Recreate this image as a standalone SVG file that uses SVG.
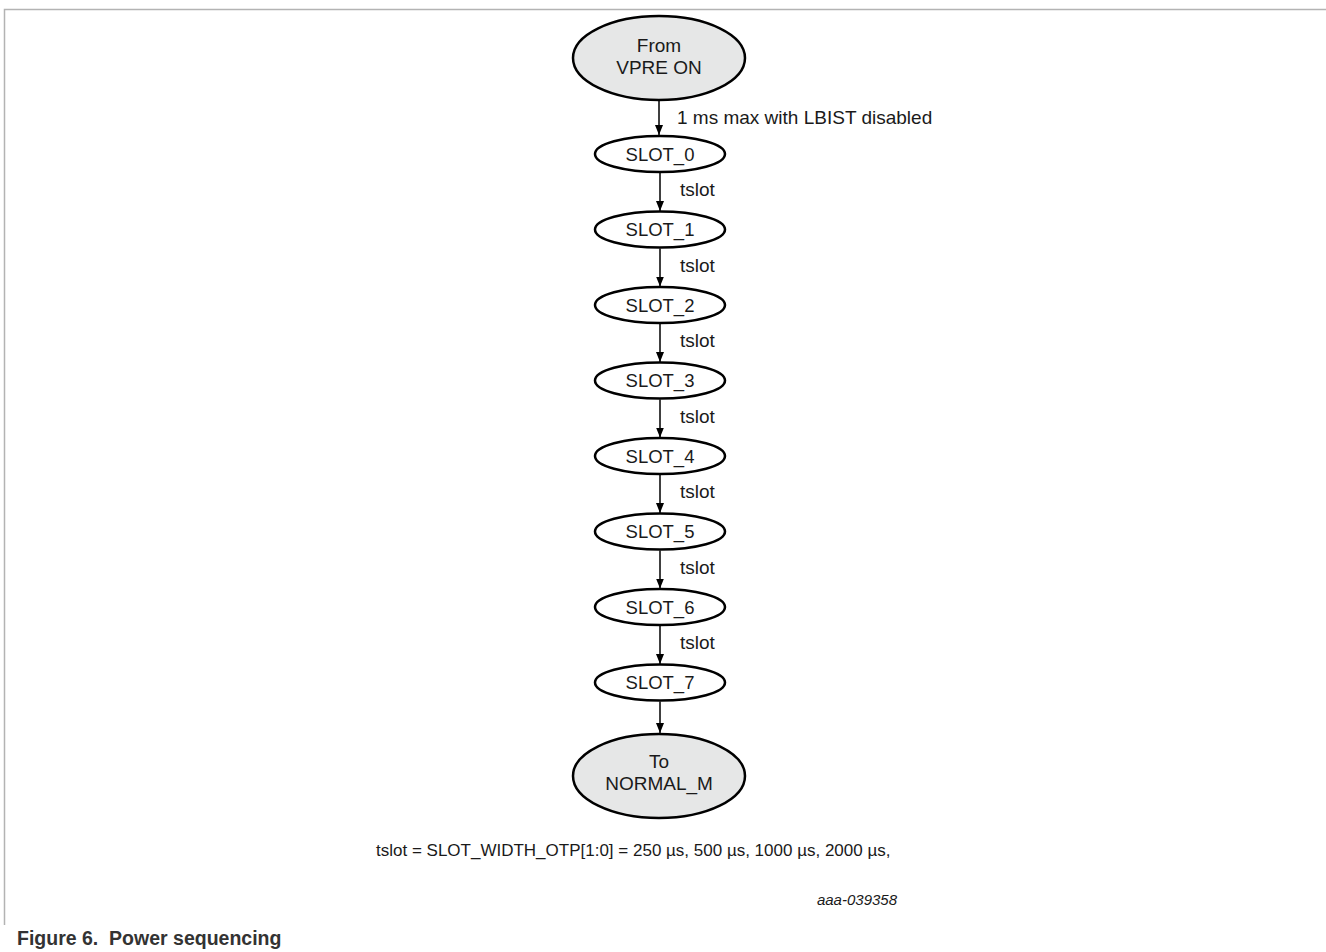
<svg xmlns="http://www.w3.org/2000/svg" width="1326" height="952" viewBox="0 0 1326 952">
<style>
.t{font-family:"Liberation Sans",Arial,sans-serif;font-size:19px;fill:#1a1a1a}
.s{font-size:18.5px}
.c{text-anchor:middle}
.term{fill:#e6e7e7;stroke:#000;stroke-width:2.5}
.slot{fill:#fff;stroke:#000;stroke-width:2.5}
.ln{stroke:#000;stroke-width:1.5;fill:none}
.frame{stroke:#b3b3b3;stroke-width:1.5;fill:none}
</style>
<defs>
<marker id="ah" viewBox="0 0 10 10" refX="10" refY="5" markerWidth="10" markerHeight="10" markerUnits="userSpaceOnUse" orient="auto">
<path d="M0,1 L10,5 L0,9 Z" fill="#000"/>
</marker>
</defs>
<rect width="1326" height="952" fill="#fff"/>
<path class="frame" d="M1326,9.5 H4.5 V925"/>
<g id="from">
<ellipse class="term" cx="659" cy="58" rx="86" ry="42"/>
<text class="t c" x="659" y="52">From</text>
<text class="t c" x="659" y="74">VPRE ON</text>
</g>
<g id="slot0"><ellipse class="slot" cx="660" cy="154" rx="65" ry="18"/><text class="t s c" x="660" y="160.5">SLOT_0</text></g>
<g id="slot1"><ellipse class="slot" cx="660" cy="229.5" rx="65" ry="18"/><text class="t s c" x="660" y="236">SLOT_1</text></g>
<g id="slot2"><ellipse class="slot" cx="660" cy="305" rx="65" ry="18"/><text class="t s c" x="660" y="311.5">SLOT_2</text></g>
<g id="slot3"><ellipse class="slot" cx="660" cy="380.5" rx="65" ry="18"/><text class="t s c" x="660" y="387">SLOT_3</text></g>
<g id="slot4"><ellipse class="slot" cx="660" cy="456" rx="65" ry="18"/><text class="t s c" x="660" y="462.5">SLOT_4</text></g>
<g id="slot5"><ellipse class="slot" cx="660" cy="531.5" rx="65" ry="18"/><text class="t s c" x="660" y="538">SLOT_5</text></g>
<g id="slot6"><ellipse class="slot" cx="660" cy="607" rx="65" ry="18"/><text class="t s c" x="660" y="613.5">SLOT_6</text></g>
<g id="slot7"><ellipse class="slot" cx="660" cy="682.5" rx="65" ry="18"/><text class="t s c" x="660" y="689">SLOT_7</text></g>
<g id="to">
<ellipse class="term" cx="659" cy="776" rx="86" ry="42"/>
<text class="t c" x="659" y="768">To</text>
<text class="t c" x="659" y="790">NORMAL_M</text>
</g>
<g id="connectors">
<line class="ln" x1="659" y1="101" x2="659" y2="135" marker-end="url(#ah)"/>
<text class="t" x="677" y="124">1 ms max with LBIST disabled</text>
<line class="ln" x1="660" y1="173" x2="660" y2="211" marker-end="url(#ah)"/>
<text class="t" x="680" y="196">tslot</text>
<line class="ln" x1="660" y1="248.5" x2="660" y2="286.5" marker-end="url(#ah)"/>
<text class="t" x="680" y="271.5">tslot</text>
<line class="ln" x1="660" y1="324" x2="660" y2="362" marker-end="url(#ah)"/>
<text class="t" x="680" y="347">tslot</text>
<line class="ln" x1="660" y1="399.5" x2="660" y2="437.5" marker-end="url(#ah)"/>
<text class="t" x="680" y="422.5">tslot</text>
<line class="ln" x1="660" y1="475" x2="660" y2="513" marker-end="url(#ah)"/>
<text class="t" x="680" y="498">tslot</text>
<line class="ln" x1="660" y1="550.5" x2="660" y2="588.5" marker-end="url(#ah)"/>
<text class="t" x="680" y="573.5">tslot</text>
<line class="ln" x1="660" y1="626" x2="660" y2="664" marker-end="url(#ah)"/>
<text class="t" x="680" y="649">tslot</text>
<line class="ln" x1="660" y1="701.5" x2="660" y2="733" marker-end="url(#ah)"/>
</g>
<text class="t" x="376" y="856" style="font-size:17px">tslot = SLOT_WIDTH_OTP[1:0] = 250 µs, 500 µs, 1000 µs, 2000 µs,</text>
<text class="t" x="897" y="905" text-anchor="end" style="font-size:15px;font-style:italic">aaa-039358</text>
<text class="t" x="17" y="945" xml:space="preserve" style="font-size:19.5px;font-weight:bold;fill:#333;white-space:pre">Figure 6.  Power sequencing</text>
</svg>
